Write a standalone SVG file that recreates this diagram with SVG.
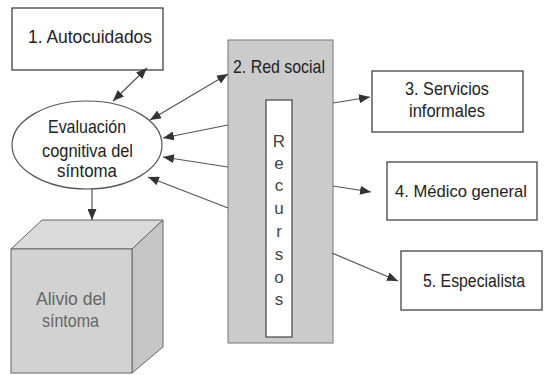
<svg xmlns="http://www.w3.org/2000/svg" width="544" height="375" viewBox="0 0 544 375">
<defs>
<marker id="ah" viewBox="0 0 11 9" refX="11" refY="4.5" markerWidth="11" markerHeight="9" markerUnits="userSpaceOnUse" orient="auto-start-reverse">
<path d="M0,0 L11,4.5 L0,9 z" fill="#333"/>
</marker>
<style>
.t{font-family:"Liberation Sans",Arial,sans-serif;font-size:19px;fill:#222}
.g{fill:#666}
.box{fill:#fff;stroke:#333;stroke-width:1.2}
.c{fill:none;stroke:#555;stroke-width:1.2}
.r{font-family:"Liberation Sans",Arial,sans-serif;font-size:17px;fill:#444;text-anchor:middle}
</style>
</defs>
<rect width="544" height="375" fill="#fff"/>
<g id="autocuidados">
<rect class="box" x="12" y="8" width="151" height="62"/>
<text class="t" x="28" y="43" textLength="124" lengthAdjust="spacingAndGlyphs">1. Autocuidados</text>
</g>
<g id="red-social">
<rect x="228" y="40" width="105" height="303" fill="#cbcbcb" stroke="#777" stroke-width="1"/>
<text class="t" x="233" y="73" textLength="92" lengthAdjust="spacingAndGlyphs" fill="#333">2. Red social</text>
</g>
<g id="recursos">
<rect x="266" y="100" width="26" height="237" fill="#fff" stroke="#444" stroke-width="1.2"/>
<text class="r" x="279" y="147">R</text>
<text class="r" x="279" y="169">e</text>
<text class="r" x="279" y="191">c</text>
<text class="r" x="279" y="214">u</text>
<text class="r" x="279" y="237">r</text>
<text class="r" x="279" y="260">s</text>
<text class="r" x="279" y="283">o</text>
<text class="r" x="279" y="305">s</text>
</g>
<g id="evaluacion">
<ellipse cx="87" cy="145" rx="75" ry="44" fill="#fff" stroke="#555" stroke-width="1.2"/>
<text class="t" x="48" y="133" textLength="78" lengthAdjust="spacingAndGlyphs">Evaluación</text>
<text class="t" x="42" y="157" textLength="91" lengthAdjust="spacingAndGlyphs">cognitiva del</text>
<text class="t" x="57" y="177" textLength="60" lengthAdjust="spacingAndGlyphs">síntoma</text>
</g>
<g id="servicios">
<rect class="box" x="372" y="71" width="151" height="61"/>
<text class="t" x="405" y="95" textLength="84" lengthAdjust="spacingAndGlyphs">3. Servicios</text>
<text class="t" x="409" y="117" textLength="76" lengthAdjust="spacingAndGlyphs">informales</text>
</g>
<g id="medico">
<rect class="box" x="387" y="162" width="150" height="58"/>
<text class="t" x="395" y="197" font-size="17" style="font-size:17px" textLength="132" lengthAdjust="spacingAndGlyphs">4. Médico general</text>
</g>
<g id="especialista">
<rect class="box" x="401" y="251" width="141" height="59"/>
<text class="t" x="423" y="287" textLength="102" lengthAdjust="spacingAndGlyphs">5. Especialista</text>
</g>
<g id="alivio">
<polygon points="11,249 42,220 163,220 132,249" fill="#dadada" stroke="#666" stroke-width="1"/>
<polygon points="132,249 163,220 163,347 132,373" fill="#c6c6c6" stroke="#666" stroke-width="1"/>
<rect x="11" y="249" width="121" height="124" fill="#d2d2d2" stroke="#666" stroke-width="1"/>
<text class="t g" x="36" y="305" textLength="70" lengthAdjust="spacingAndGlyphs">Alivio del</text>
<text class="t g" x="42" y="327" textLength="57" lengthAdjust="spacingAndGlyphs">síntoma</text>
</g>
<g id="connectors">
<line class="c" x1="113" y1="101" x2="147" y2="68" marker-start="url(#ah)" marker-end="url(#ah)"/>
<line class="c" x1="150" y1="120" x2="228" y2="74" marker-start="url(#ah)" marker-end="url(#ah)"/>
<line class="c" x1="228" y1="125" x2="163" y2="138" marker-end="url(#ah)"/>
<line class="c" x1="228" y1="167" x2="163" y2="157" marker-end="url(#ah)"/>
<line class="c" x1="228" y1="208" x2="148" y2="177" marker-end="url(#ah)"/>
<line class="c" x1="92" y1="189" x2="92" y2="220" marker-end="url(#ah)"/>
<line class="c" x1="333" y1="103" x2="370" y2="97" marker-end="url(#ah)"/>
<line class="c" x1="333" y1="186" x2="371" y2="192" marker-end="url(#ah)"/>
<line class="c" x1="332" y1="253" x2="398" y2="281" marker-end="url(#ah)"/>
</g>
</svg>
